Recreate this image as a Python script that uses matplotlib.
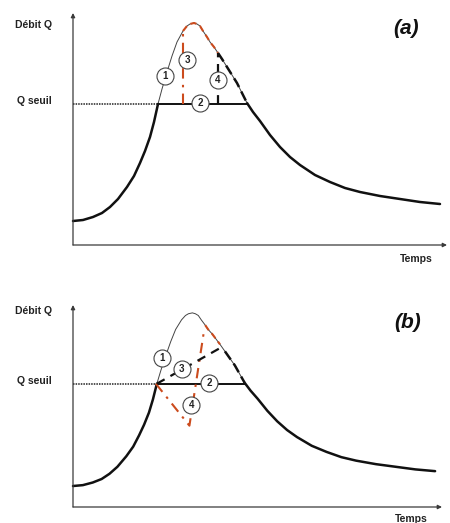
import numpy as np
import matplotlib
matplotlib.use("Agg")
import matplotlib.pyplot as plt

plt.rcParams['font.family'] = ['Liberation Sans', 'DejaVu Sans']

# ---- data (schematic hydrograph) ----
t = np.array([0, 10, 20, 29, 37, 45, 54, 61, 67, 72, 77, 81, 85, 89, 94, 99, 104, 110, 114, 117,
              121, 124, 127, 130, 134, 137, 141, 145, 149, 154, 159, 164, 169, 174, 180, 187, 197, 207, 217, 227,
              242, 257, 272, 287, 307, 327, 347, 367])
Q = np.array([24, 25, 28, 32, 38, 46, 58, 69, 82, 94, 108, 123, 141, 156, 173, 189, 203, 214, 219, 221,
              222, 221, 219, 214, 208, 203, 198, 192, 186, 178, 170, 162, 152, 142, 133, 124, 110, 98, 88, 80,
              70, 63, 57, 53, 49, 46, 43, 41])
q_seuil = 141
t_cross = [85, 174]

# panel (a) annotations
a_red_t, a_red_q = [110, 110], [141, 214]
a_black_t, a_black_q = [145, 145], [141, 192]
a_red_curve = (110, 145)
a_black_curve = (145, 174)
a_circles_t = [92, 127, 114, 145]
a_circles_q = [169, 142, 185, 165]
a_labels = ['1', '2', '3', '4']

# panel (b) annotations
b_red_t, b_red_q = [84, 118, 133], [141, 93, 203]
b_dash_t, b_dash_q = [85, 151], [141, 183]
b_red_curve = (134, 150)
b_black_curve = (150, 174)
b_circles_t = [90, 138, 110, 120]
b_circles_q = [170, 142, 158, 117]
b_labels = ['1', '2', '3', '4']

RED = '#cc4b1d'
BLK = '#111111'
AX = '#3a3a3a'

W, H = 450, 523
fig = plt.figure(figsize=(W / 100, H / 100), dpi=100)


def add_axes(l, b, w, h):
    return fig.add_axes([l / W, 1 - (b) / H, w / W, h / H])


def draw_panel(ax, ymax, red_curve, black_curve):
    ax.set_xlim(0, 374)
    ax.set_ylim(0, ymax)
    ax.axis('off')
    ap = dict(arrowstyle='-|>', lw=0.9, color=AX, mutation_scale=6, shrinkA=0, shrinkB=0)
    ax.annotate('', xy=(374, 0), xytext=(0, 0), arrowprops=ap, annotation_clip=False)
    ax.annotate('', xy=(0, ymax), xytext=(0, 0), arrowprops=ap, annotation_clip=False)
    rise = t <= t_cross[0]
    mid = (t >= t_cross[0]) & (t <= t_cross[1])
    fall = t >= t_cross[1]
    ax.plot(t[rise], Q[rise], color=BLK, lw=1.8, solid_capstyle='round', clip_on=False)
    ax.plot(t[fall], Q[fall], color=BLK, lw=1.8, solid_capstyle='round', clip_on=False)
    ax.plot(t[mid], Q[mid], color='#444444', lw=0.7, clip_on=False)
    # threshold
    ax.plot([0, t_cross[0]], [q_seuil, q_seuil], color='#222222', lw=1.1, ls=(0, (1, 0.7)))
    ax.plot(t_cross, [q_seuil, q_seuil], color=BLK, lw=1.4)
    m = (t >= red_curve[0]) & (t <= red_curve[1])
    ax.plot(t[m], Q[m], color=RED, lw=1.5, ls=(0, (3, 2)), zorder=4)
    m = (t >= black_curve[0]) & (t <= black_curve[1])
    ax.plot(t[m], Q[m], color=BLK, lw=1.8, ls=(0, (4, 2)), zorder=4)


def circles(ax, ct, cq, labels):
    ax.scatter(ct, cq, s=150, facecolor='white', edgecolor='#444444', lw=0.8, zorder=6)
    for x, y, s in zip(ct, cq, labels):
        ax.text(x, y, s, ha='center', va='center', fontsize=7, fontweight='bold', zorder=7, color='#222222')


# ---- panel (a) ----
axa = add_axes(73, 245, 374, 232)
draw_panel(axa, 232, a_red_curve, a_black_curve)
axa.plot(a_red_t, a_red_q, color=RED, lw=1.5, ls=(0, (5, 3, 1.2, 3)), zorder=4)
axa.plot(a_black_t, a_black_q, color=BLK, lw=1.6, ls=(0, (4, 3)), zorder=4)
circles(axa, a_circles_t, a_circles_q, a_labels)

# ---- panel (b) ----
axb = add_axes(73, 507, 369, 202)
draw_panel(axb, 231, b_red_curve, b_black_curve)
axb.plot(b_red_t, b_red_q, color=RED, lw=1.5, ls=(0, (5, 3, 1.2, 3)), zorder=4)
axb.plot(b_dash_t, b_dash_q, color=BLK, lw=1.6, ls=(0, (4, 3)), zorder=4)
circles(axb, b_circles_t, b_circles_q, b_labels)


def ftext(x, y, s, **kw):
    fig.text(x / W, 1 - y / H, s, **kw)


lab = dict(fontsize=7.5, fontweight='bold', color='#222222', va='center')
ftext(15, 25, 'Débit Q', **lab)
ftext(17, 101, 'Q seuil', **lab)
ftext(400, 259, 'Temps', **lab)
ftext(15, 311, 'Débit Q', **lab)
ftext(17, 381, 'Q seuil', **lab)
ftext(395, 519, 'Temps', **lab)
big = dict(fontsize=15, fontweight='bold', fontstyle='italic', color='#111111', va='center')
ftext(393, 29, '(a)', **big)
ftext(394, 323, '(b)', **big)

fig.savefig('out.png', dpi=100, facecolor='white')
